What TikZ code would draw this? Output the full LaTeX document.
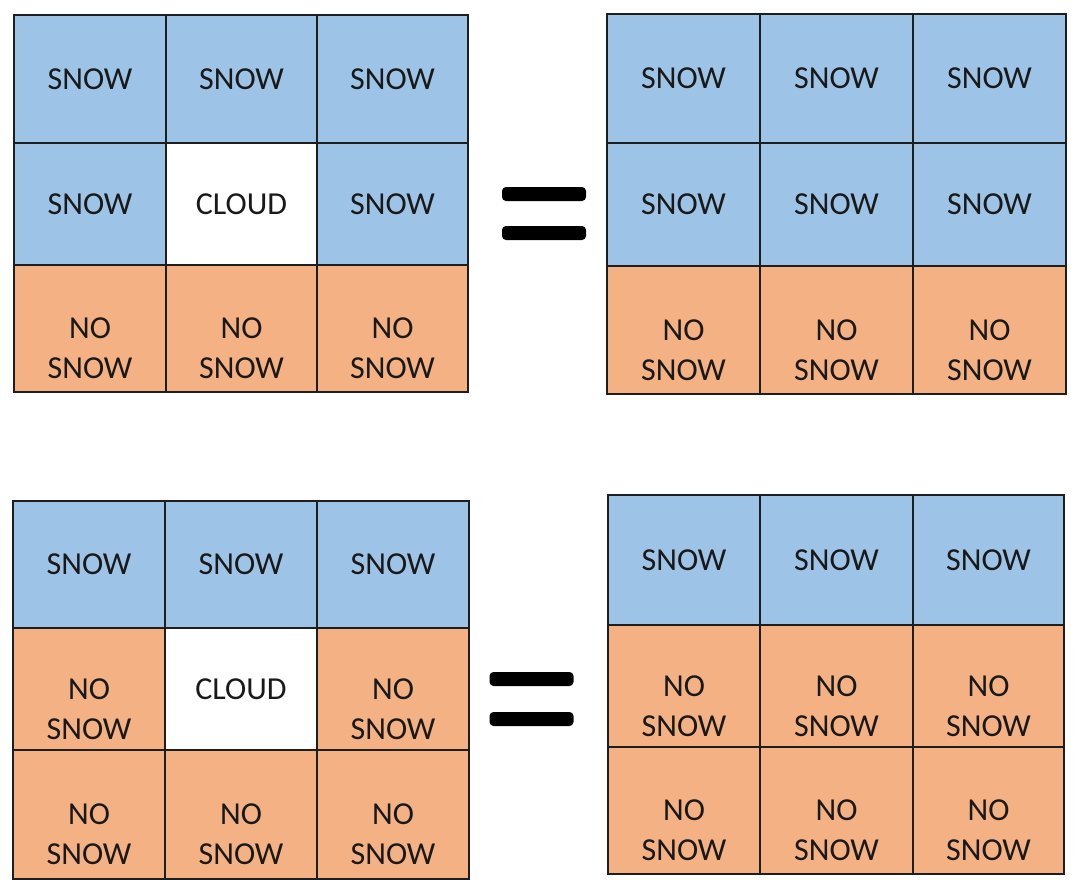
\documentclass[tikz,border=0pt]{standalone}
\usepackage{fontspec}
\setmainfont{Carlito}
\definecolor{snowblue}{HTML}{9DC3E6}
\definecolor{nosnow}{HTML}{F4B183}
\definecolor{gridline}{HTML}{1E1E1E}
\tikzset{
  cellbase/.style={draw=gridline, line width=1.3pt, inner sep=0pt, outer sep=0pt, rectangle},
  snowcell/.style={cellbase, fill=snowblue},
  nocell/.style={cellbase, fill=nosnow},
  cloudcell/.style={cellbase, fill=white},
  lbl/.style={anchor=base, align=center, inner sep=0pt, text=black!90,
    font=\fontsize{32}{40}\selectfont},
  eqbar/.style={fill=black, rounded corners=4pt, inner sep=0pt, minimum width=84pt, minimum height=14pt}
}
% one-line label cell
\newcommand\mycell[7]{%
  \node[#6, minimum width={#4-#2}, minimum height={#5-#3}] (#1) at ({(#2+#4)/2},{(#3+#5)/2}) {};
  \node[lbl] (#1t) at ([yshift=-10pt]#1.center) {#7};
}
% two-line label cell (NO / SNOW)
\newcommand\mycelltwo[6]{%
  \node[#6, minimum width={#4-#2}, minimum height={#5-#3}] (#1) at ({(#2+#4)/2},{(#3+#5)/2}) {};
  \node[lbl] (#1t) at ([yshift=-50pt]#1.center) {NO\\SNOW};
}
\begin{document}
\begin{tikzpicture}[x=1pt,y=-1pt]
\useasboundingbox (0,0) rectangle (1078,891);
% top-left grid
\mycell{a11}{14}{15}{166}{143}{snowcell}{SNOW}
\mycell{a12}{166}{15}{317}{143}{snowcell}{SNOW}
\mycell{a13}{317}{15}{468}{143}{snowcell}{SNOW}
\mycell{a21}{14}{143}{166}{265}{snowcell}{SNOW}
\mycell{a22}{166}{143}{317}{265}{cloudcell}{CLOUD}
\mycell{a23}{317}{143}{468}{265}{snowcell}{SNOW}
\mycelltwo{a31}{14}{265}{166}{392}{nocell}
\mycelltwo{a32}{166}{265}{317}{392}{nocell}
\mycelltwo{a33}{317}{265}{468}{392}{nocell}
% top-right grid
\mycell{b11}{607}{14}{760}{143}{snowcell}{SNOW}
\mycell{b12}{760}{14}{913}{143}{snowcell}{SNOW}
\mycell{b13}{913}{14}{1066}{143}{snowcell}{SNOW}
\mycell{b21}{607}{143}{760}{266}{snowcell}{SNOW}
\mycell{b22}{760}{143}{913}{266}{snowcell}{SNOW}
\mycell{b23}{913}{143}{1066}{266}{snowcell}{SNOW}
\mycelltwo{b31}{607}{266}{760}{394}{nocell}
\mycelltwo{b32}{760}{266}{913}{394}{nocell}
\mycelltwo{b33}{913}{266}{1066}{394}{nocell}
% bottom-left grid
\mycell{c11}{13}{501}{165}{628}{snowcell}{SNOW}
\mycell{c12}{165}{501}{317}{628}{snowcell}{SNOW}
\mycell{c13}{317}{501}{469}{628}{snowcell}{SNOW}
\mycelltwo{c21}{13}{628}{165}{750}{nocell}
\mycell{c22}{165}{628}{317}{750}{cloudcell}{CLOUD}
\mycelltwo{c23}{317}{628}{469}{750}{nocell}
\mycelltwo{c31}{13}{750}{165}{879}{nocell}
\mycelltwo{c32}{165}{750}{317}{879}{nocell}
\mycelltwo{c33}{317}{750}{469}{879}{nocell}
% bottom-right grid
\mycell{d11}{608}{495}{760}{625}{snowcell}{SNOW}
\mycell{d12}{760}{495}{913}{625}{snowcell}{SNOW}
\mycell{d13}{913}{495}{1064}{625}{snowcell}{SNOW}
\mycelltwo{d21}{608}{625}{760}{747}{nocell}
\mycelltwo{d22}{760}{625}{913}{747}{nocell}
\mycelltwo{d23}{913}{625}{1064}{747}{nocell}
\mycelltwo{d31}{608}{747}{760}{874}{nocell}
\mycelltwo{d32}{760}{747}{913}{874}{nocell}
\mycelltwo{d33}{913}{747}{1064}{874}{nocell}
% equals signs
\node[eqbar] (eq1a) at (544,194) {};
\node[eqbar] (eq1b) at (544,233) {};
\node[eqbar] (eq2a) at (531.5,679) {};
\node[eqbar] (eq2b) at (531.5,719) {};
\end{tikzpicture}
\end{document}
